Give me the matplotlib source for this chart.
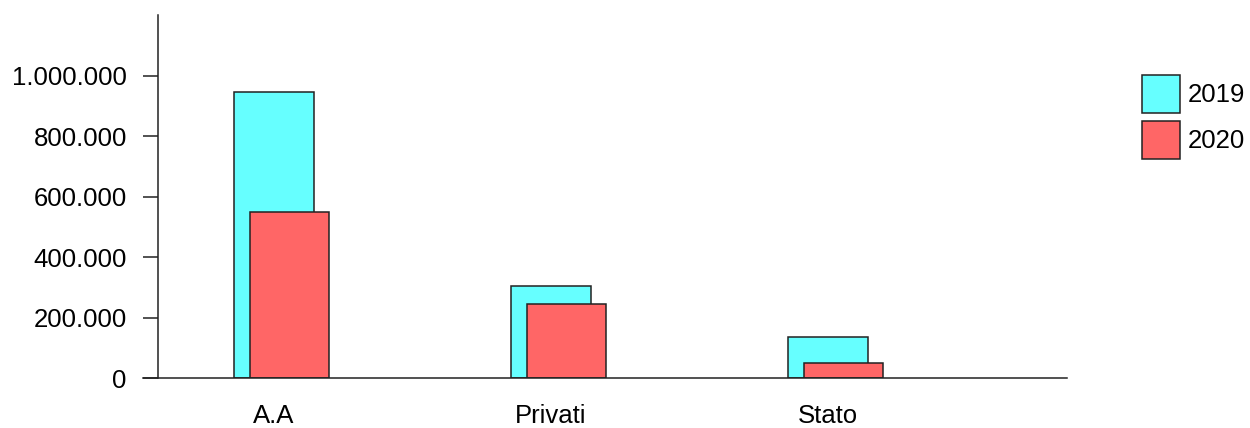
import matplotlib
matplotlib.use("Agg")
import matplotlib.pyplot as plt
import numpy as np
from matplotlib.ticker import FuncFormatter

categories = ["A.A", "Privati", "Stato"]
years = ["2019", "2020"]
values_2019 = [944000, 304000, 135000]
values_2020 = [548000, 244000, 48000]
yticks = [0, 200000, 400000, 600000, 800000, 1000000]

COLORS = {"2019": "#66ffff", "2020": "#ff6666"}

plt.rcParams.update({
    "font.family": ["Liberation Sans", "DejaVu Sans"],
    "font.size": 18.5,
})

fig = plt.figure(figsize=(12.5, 4.28), dpi=100)
ax = fig.add_axes([158 / 1250, 1 - 378 / 428, (1067 - 158) / 1250, (378 - 15) / 428])

x = np.arange(len(categories))
w = 0.288
shift = 0.056
ax.bar(x, values_2019, w, color=COLORS["2019"], edgecolor="#222222", lw=1.1, label="2019", zorder=2)
ax.bar(x + shift, values_2020, w, color=COLORS["2020"], edgecolor="#222222", lw=1.1, label="2020", zorder=3)

ax.set_xlim(-0.419, 2.863)
ax.set_ylim(0, 1200000)
ax.set_xticks(x)
ax.set_xticklabels(categories)
ax.set_yticks(yticks)
ax.yaxis.set_major_formatter(FuncFormatter(lambda v, _: f"{int(v):,}".replace(",", ".")))

for s in ["top", "right", "bottom"]:
    ax.spines[s].set_visible(False)
ax.spines["left"].set_color("#222222")
ax.spines["left"].set_linewidth(1.1)
ax.tick_params(axis="y", length=11, width=1.1, color="#222222", pad=11.5)
ax.tick_params(axis="x", length=0, pad=19)

# baseline, extends left past the spine like the tick marks
ax.axhline(0, xmin=-15 / 909, xmax=1, color="#222222", lw=1.1, clip_on=False, zorder=4)

ax.legend(loc="upper left", bbox_to_anchor=(1142 / 1250, 1 - 75 / 428),
          bbox_transform=fig.transFigure, frameon=False, borderpad=0, borderaxespad=0,
          handlelength=1.48, handleheight=1.90, labelspacing=0.31, handletextpad=0.3)

fig.savefig("out.png", dpi=100)
